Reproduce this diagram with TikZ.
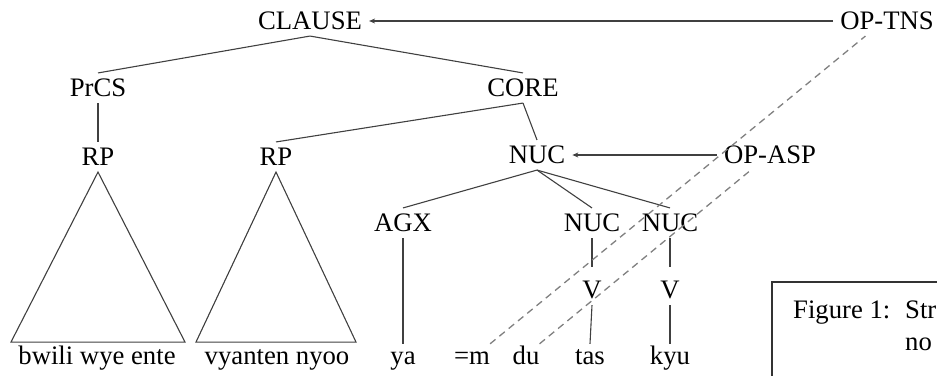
\documentclass[tikz,border=0pt]{standalone}
\usepackage{fontspec}
\setmainfont{Liberation Serif}
\usetikzlibrary{arrows.meta,calc}
\begin{document}
\begin{tikzpicture}[x=1pt,y=-1pt,
  lbl/.style={font=\fontsize{26.7}{32}\selectfont, text=black},
  tree/.style={lbl, inner xsep=7pt, inner ysep=6pt, text height=17.7pt, text depth=0pt, anchor=center},
  leaf/.style={lbl, inner xsep=0pt, inner ysep=2pt, text height=18pt, text depth=6pt, anchor=base},
  edge/.style={draw=black!75, line width=1.1pt},
  oparrow/.style={edge, -{Stealth[length=6pt,width=5pt]}},
  opdash/.style={draw=black!50, line width=1.3pt, dash pattern=on 7pt off 5pt},
  capbox/.style={draw=black!80, line width=1.1pt}]
\useasboundingbox (0,0) rectangle (937,375);
\clip (0,0) rectangle (937,375);
% tree labels
\node[tree] (clause) at (310,21) {CLAUSE};
\node[tree] (optns) at (887,21) {OP-TNS};
\node[tree] (prcs) at (98,88) {PrCS};
\node[tree] (core) at (523,88) {CORE};
\node[tree] (rpa) at (98,157) {RP};
\node[tree] (rpb) at (276,157) {RP};
\node[tree] (nuc) at (537,155) {NUC};
\node[tree] (opasp) at (770,155) {OP-ASP};
\node[tree] (agx) at (403,223) {AGX};
\node[tree] (nucb) at (592,223) {NUC};
\node[tree] (nucc) at (670,223) {NUC};
\node[tree] (va) at (592,290) {V};
\node[tree] (vb) at (670,290) {V};
% leaves
\node[leaf] (la) at (97,364) {bwili wye ente};
\node[leaf] (lb) at (277,364) {vyanten nyoo};
\node[leaf] (ya) at (403,364) {ya};
\node[leaf] (m) at (472,364) {=m};
\node[leaf] (du) at (526,364) {du};
\node[leaf] (tas) at (590,364) {tas};
\node[leaf] (kyu) at (670,364) {kyu};
% tree edges
\draw[edge] (clause.south) -- (prcs.north);
\draw[edge] (clause.south) -- (core.north);
\draw[edge] (prcs.south) -- (rpa.north);
\draw[edge] (core.south) -- (rpb.north);
\draw[edge] (core.south) -- (nuc.north);
\draw[edge] (nuc.south) -- (agx.north);
\draw[edge] (nuc.south) -- (nucb.north);
\draw[edge] (nuc.south) -- (nucc.north);
\draw[edge] (agx.south) -- (ya.north);
\draw[edge, shorten >=8pt] (nucb.south) -- (va.north);
\draw[edge, shorten >=8pt] (nucc.south) -- (vb.north);
\draw[edge] (va.south) -- (tas.north);
\draw[edge] (vb.south) -- (kyu.north);
% triangles
\draw[edge] (rpa.south) -- ++(-87,170) -- ++(174,0) -- cycle;
\draw[edge] (rpb.south) -- ++(-80,170) -- ++(160,0) -- cycle;
% operator arrows
\draw[oparrow] (optns.west) -- (clause.east);
\draw[oparrow] (opasp.west) -- (nuc.east);
% operator scope (dashed)
\draw[opdash] (m.north east) -- ($(optns.south west)!0.3!(optns.south east)$);
\draw[opdash] (du.north east) -- ($(opasp.south west)!0.32!(opasp.south east)$);
% caption box (cut by the frame)
\draw[capbox] (772,400) -- (772,282) -- (960,282);
\node[lbl, anchor=base west, inner sep=0pt] (capa) at (793,318) {Figure 1:};
\node[lbl, anchor=base west, inner sep=0pt] (capb) at (905,318) {Str};
\node[lbl, anchor=base west, inner sep=0pt] (capc) at (905,350) {no};
\end{tikzpicture}
\end{document}
